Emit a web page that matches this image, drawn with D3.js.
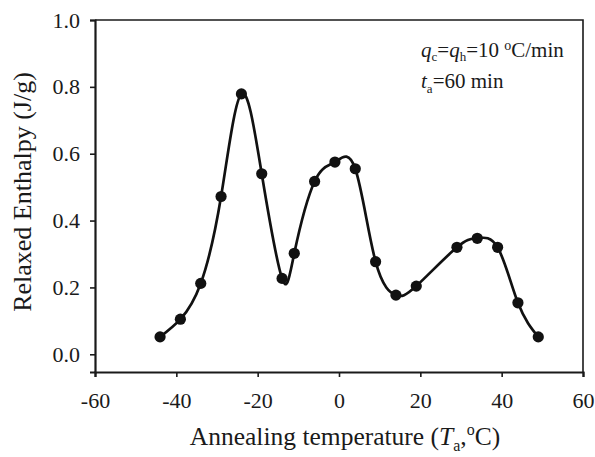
<!DOCTYPE html>
<html>
<head>
<meta charset="utf-8">
<script src="https://cdn.jsdelivr.net/npm/d3@7"></script>
<style>
  body { margin: 0; background: #fff; }
  text { font-family: "Liberation Serif", "Times New Roman", serif; fill: #1a1a1a; }
</style>
</head>
<body>
<div id="chart"></div>
<script>
const WIDTH = 595, HEIGHT = 457

// annealing temperature (C) and relaxed enthalpy (J/g)
const temps = [-44, -39, -34, -29, -24, -19, -14, -11, -6, -1, 4, 9, 14, 19, 29, 34, 39, 44, 49]
const enthalpy = [0.052, 0.105, 0.212, 0.472, 0.779, 0.54, 0.227, 0.302, 0.517, 0.575, 0.555, 0.277, 0.177, 0.204, 0.32, 0.347, 0.32, 0.154, 0.052]
const xTicks = [-60, -40, -20, 0, 20, 40, 60]
const yTicks = [0.0, 0.2, 0.4, 0.6, 0.8, 1.0]

var margin = {top: 20, right: 12, bottom: 85, left: 95},
    width = WIDTH - margin.left - margin.right,
    height = HEIGHT - margin.top - margin.bottom

var svg = d3.select("#chart").append("svg")
  .attr("width", WIDTH)
  .attr("height", HEIGHT)
  .append("g")
  .attr("transform", "translate(" + margin.left + "," + margin.top + ")")

var x = d3.scaleLinear().domain([-60, 60]).range([0, width])
var y = d3.scaleLinear().domain([-0.053, 1.0]).range([height, 0])

//frame top + right
svg.append("path")
  .attr("d", "M0,0H" + width + "V" + height)
  .attr("fill", "none").attr("stroke", "#1a1a1a").attr("stroke-width", 1.6)

var xAxis = svg.append("g")
  .attr("transform", "translate(0," + height + ")")
  .call(d3.axisBottom(x).tickValues(xTicks).tickSize(5).tickPadding(15).tickFormat(d => String(d)))
var yAxis = svg.append("g")
  .call(d3.axisLeft(y).tickValues(yTicks).tickSize(5).tickPadding(10).tickFormat(d => d.toFixed(1)))

;[xAxis, yAxis].forEach(a => {
  a.select(".domain").attr("stroke", "#1a1a1a").attr("stroke-width", 2.2)
  a.selectAll(".tick line").attr("stroke", "#1a1a1a").attr("stroke-width", 1.6)
  a.selectAll("text").style("font-family", "Liberation Serif").style("font-size", "22px").attr("fill", "#1a1a1a")
})

var pts = temps.map((t, i) => [x(t), y(enthalpy[i])])

svg.append("path")
  .attr("d", d3.line().curve(d3.curveNatural)(pts))
  .attr("fill", "none").attr("stroke", "#111").attr("stroke-width", 2.7)

svg.selectAll("circle").data(pts).enter().append("circle")
  .attr("cx", d => d[0]).attr("cy", d => d[1]).attr("r", 5.6).attr("fill", "#111")

// annotation
var ann1 = svg.append("text").attr("x", 326).attr("y", 37).style("font-size", "21px")
ann1.append("tspan").style("font-style", "italic").text("q")
ann1.append("tspan").attr("dy", 4).style("font-size", "13px").text("c")
ann1.append("tspan").attr("dy", -4).text("=")
ann1.append("tspan").style("font-style", "italic").text("q")
ann1.append("tspan").attr("dy", 4).style("font-size", "13px").text("h")
ann1.append("tspan").attr("dy", -4).text("=10 ")
ann1.append("tspan").attr("dy", -7).style("font-size", "14px").text("o")
ann1.append("tspan").attr("dy", 7).text("C/min")

var ann2 = svg.append("text").attr("x", 326).attr("y", 68).style("font-size", "21px")
ann2.append("tspan").style("font-style", "italic").text("t")
ann2.append("tspan").attr("dy", 5).style("font-size", "13px").text("a")
ann2.append("tspan").attr("dy", -5).text("=60 min")

// x label
var xl = svg.append("text").attr("x", 250).attr("y", height + 73)
  .attr("text-anchor", "middle").style("font-size", "25.5px")
xl.append("tspan").text("Annealing temperature (")
xl.append("tspan").style("font-style", "italic").text("T")
xl.append("tspan").attr("dy", 6).style("font-size", "16px").text("a")
xl.append("tspan").attr("dy", -6).text(",")
xl.append("tspan").attr("dy", -10).style("font-size", "16px").text("o")
xl.append("tspan").attr("dy", 10).text("C)")

// y label
svg.append("text")
  .attr("transform", "translate(" + (-64) + "," + 172 + ") rotate(-90)")
  .attr("text-anchor", "middle").style("font-size", "26px")
  .text("Relaxed Enthalpy (J/g)")
</script>
</body>
</html>
